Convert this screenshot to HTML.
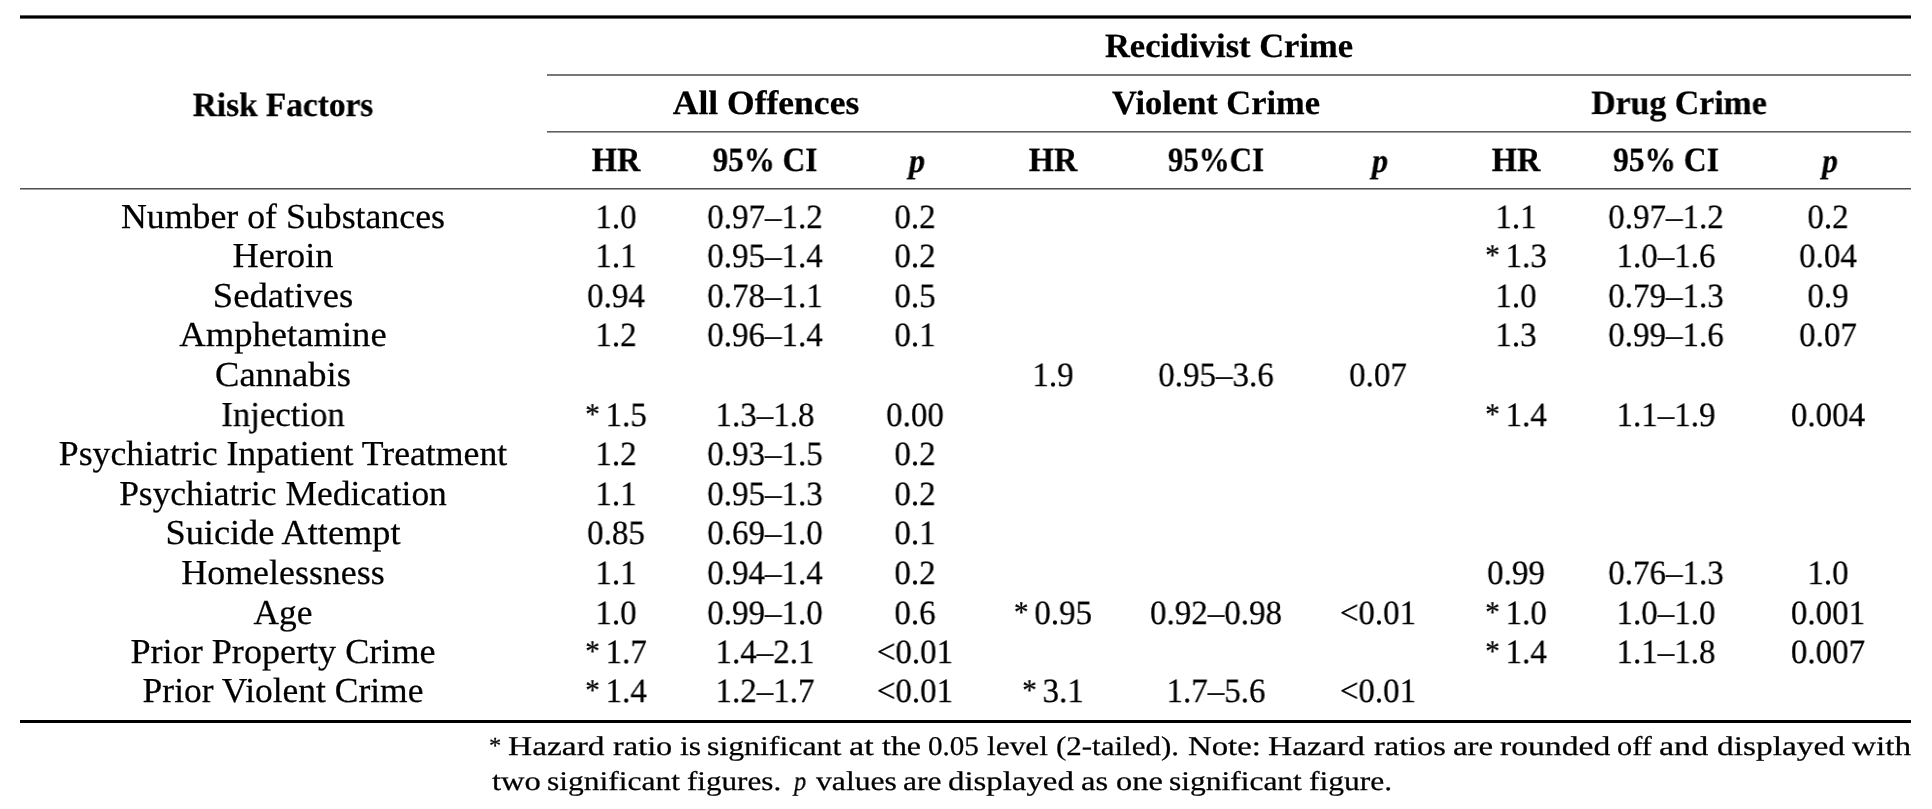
<!DOCTYPE html>
<html><head><meta charset="utf-8"><style>
html,body{margin:0;padding:0;background:#fff;}
body{width:1932px;height:809px;position:relative;overflow:hidden;font-family:"Liberation Serif",serif;color:#000;text-rendering:geometricPrecision;-webkit-text-stroke:0.25px #000;}
.t{position:absolute;white-space:nowrap;text-align:center;line-height:1;will-change:transform;}
.r{position:absolute;background:#000;}
.w{position:absolute;white-space:nowrap;line-height:1;will-change:transform;transform-origin:0 0;}
.a{font-size:30px;position:relative;top:-2.5px;margin-right:6px;}
</style></head><body>
<div class="t" id="e0" style="left:-16.60px;top:199px;width:600px;font-size:35px;font-weight:400;transform:scaleX(1.0222);">Number of Substances</div>
<div class="t" id="e1" style="left:316.00px;top:201px;width:600px;font-size:34px;font-weight:400;transform:scaleX(0.9706);">1.0</div>
<div class="t" id="e2" style="left:465.40px;top:201px;width:600px;font-size:34px;font-weight:400;transform:scaleX(0.9706);">0.97–1.2</div>
<div class="t" id="e3" style="left:615.00px;top:201px;width:600px;font-size:34px;font-weight:400;transform:scaleX(0.9706);">0.2</div>
<div class="t" id="e4" style="left:1215.50px;top:201px;width:600px;font-size:34px;font-weight:400;transform:scaleX(0.9706);">1.1</div>
<div class="t" id="e5" style="left:1366.00px;top:201px;width:600px;font-size:34px;font-weight:400;transform:scaleX(0.9706);">0.97–1.2</div>
<div class="t" id="e6" style="left:1528.40px;top:201px;width:600px;font-size:34px;font-weight:400;transform:scaleX(0.9706);">0.2</div>
<div class="t" id="e7" style="left:-16.60px;top:238px;width:600px;font-size:35px;font-weight:400;transform:scaleX(1.0367);">Heroin</div>
<div class="t" id="e8" style="left:316.00px;top:240px;width:600px;font-size:34px;font-weight:400;transform:scaleX(0.9706);">1.1</div>
<div class="t" id="e9" style="left:465.40px;top:240px;width:600px;font-size:34px;font-weight:400;transform:scaleX(0.9706);">0.95–1.4</div>
<div class="t" id="e10" style="left:615.00px;top:240px;width:600px;font-size:34px;font-weight:400;transform:scaleX(0.9706);">0.2</div>
<div class="t" id="e11" style="left:1215.50px;top:240px;width:600px;font-size:34px;font-weight:400;transform:scaleX(0.9706);"><span class="a">*</span>1.3</div>
<div class="t" id="e12" style="left:1366.00px;top:240px;width:600px;font-size:34px;font-weight:400;transform:scaleX(0.9706);">1.0–1.6</div>
<div class="t" id="e13" style="left:1528.40px;top:240px;width:600px;font-size:34px;font-weight:400;transform:scaleX(0.9706);">0.04</div>
<div class="t" id="e14" style="left:-16.60px;top:278px;width:600px;font-size:35px;font-weight:400;transform:scaleX(1.0459);">Sedatives</div>
<div class="t" id="e15" style="left:316.00px;top:280px;width:600px;font-size:34px;font-weight:400;transform:scaleX(0.9706);">0.94</div>
<div class="t" id="e16" style="left:465.40px;top:280px;width:600px;font-size:34px;font-weight:400;transform:scaleX(0.9706);">0.78–1.1</div>
<div class="t" id="e17" style="left:615.00px;top:280px;width:600px;font-size:34px;font-weight:400;transform:scaleX(0.9706);">0.5</div>
<div class="t" id="e18" style="left:1215.50px;top:280px;width:600px;font-size:34px;font-weight:400;transform:scaleX(0.9706);">1.0</div>
<div class="t" id="e19" style="left:1366.00px;top:280px;width:600px;font-size:34px;font-weight:400;transform:scaleX(0.9706);">0.79–1.3</div>
<div class="t" id="e20" style="left:1528.40px;top:280px;width:600px;font-size:34px;font-weight:400;transform:scaleX(0.9706);">0.9</div>
<div class="t" id="e21" style="left:-16.60px;top:317px;width:600px;font-size:35px;font-weight:400;transform:scaleX(1.0457);">Amphetamine</div>
<div class="t" id="e22" style="left:316.00px;top:319px;width:600px;font-size:34px;font-weight:400;transform:scaleX(0.9706);">1.2</div>
<div class="t" id="e23" style="left:465.40px;top:319px;width:600px;font-size:34px;font-weight:400;transform:scaleX(0.9706);">0.96–1.4</div>
<div class="t" id="e24" style="left:615.00px;top:319px;width:600px;font-size:34px;font-weight:400;transform:scaleX(0.9706);">0.1</div>
<div class="t" id="e25" style="left:1215.50px;top:319px;width:600px;font-size:34px;font-weight:400;transform:scaleX(0.9706);">1.3</div>
<div class="t" id="e26" style="left:1366.00px;top:319px;width:600px;font-size:34px;font-weight:400;transform:scaleX(0.9706);">0.99–1.6</div>
<div class="t" id="e27" style="left:1528.40px;top:319px;width:600px;font-size:34px;font-weight:400;transform:scaleX(0.9706);">0.07</div>
<div class="t" id="e28" style="left:-16.60px;top:357px;width:600px;font-size:35px;font-weight:400;transform:scaleX(1.0431);">Cannabis</div>
<div class="t" id="e29" style="left:753.00px;top:359px;width:600px;font-size:34px;font-weight:400;transform:scaleX(0.9706);">1.9</div>
<div class="t" id="e30" style="left:915.50px;top:359px;width:600px;font-size:34px;font-weight:400;transform:scaleX(0.9706);">0.95–3.6</div>
<div class="t" id="e31" style="left:1078.00px;top:359px;width:600px;font-size:34px;font-weight:400;transform:scaleX(0.9706);">0.07</div>
<div class="t" id="e32" style="left:-16.60px;top:397px;width:600px;font-size:35px;font-weight:400;transform:scaleX(0.9920);">Injection</div>
<div class="t" id="e33" style="left:316.00px;top:399px;width:600px;font-size:34px;font-weight:400;transform:scaleX(0.9706);"><span class="a">*</span>1.5</div>
<div class="t" id="e34" style="left:465.40px;top:399px;width:600px;font-size:34px;font-weight:400;transform:scaleX(0.9706);">1.3–1.8</div>
<div class="t" id="e35" style="left:615.00px;top:399px;width:600px;font-size:34px;font-weight:400;transform:scaleX(0.9706);">0.00</div>
<div class="t" id="e36" style="left:1215.50px;top:399px;width:600px;font-size:34px;font-weight:400;transform:scaleX(0.9706);"><span class="a">*</span>1.4</div>
<div class="t" id="e37" style="left:1366.00px;top:399px;width:600px;font-size:34px;font-weight:400;transform:scaleX(0.9706);">1.1–1.9</div>
<div class="t" id="e38" style="left:1528.40px;top:399px;width:600px;font-size:34px;font-weight:400;transform:scaleX(0.9706);">0.004</div>
<div class="t" id="e39" style="left:-16.60px;top:436px;width:600px;font-size:35px;font-weight:400;transform:scaleX(1.0206);">Psychiatric Inpatient Treatment</div>
<div class="t" id="e40" style="left:316.00px;top:438px;width:600px;font-size:34px;font-weight:400;transform:scaleX(0.9706);">1.2</div>
<div class="t" id="e41" style="left:465.40px;top:438px;width:600px;font-size:34px;font-weight:400;transform:scaleX(0.9706);">0.93–1.5</div>
<div class="t" id="e42" style="left:615.00px;top:438px;width:600px;font-size:34px;font-weight:400;transform:scaleX(0.9706);">0.2</div>
<div class="t" id="e43" style="left:-16.60px;top:476px;width:600px;font-size:35px;font-weight:400;transform:scaleX(1.0124);">Psychiatric Medication</div>
<div class="t" id="e44" style="left:316.00px;top:478px;width:600px;font-size:34px;font-weight:400;transform:scaleX(0.9706);">1.1</div>
<div class="t" id="e45" style="left:465.40px;top:478px;width:600px;font-size:34px;font-weight:400;transform:scaleX(0.9706);">0.95–1.3</div>
<div class="t" id="e46" style="left:615.00px;top:478px;width:600px;font-size:34px;font-weight:400;transform:scaleX(0.9706);">0.2</div>
<div class="t" id="e47" style="left:-16.60px;top:515px;width:600px;font-size:35px;font-weight:400;transform:scaleX(1.0380);">Suicide Attempt</div>
<div class="t" id="e48" style="left:316.00px;top:517px;width:600px;font-size:34px;font-weight:400;transform:scaleX(0.9706);">0.85</div>
<div class="t" id="e49" style="left:465.40px;top:517px;width:600px;font-size:34px;font-weight:400;transform:scaleX(0.9706);">0.69–1.0</div>
<div class="t" id="e50" style="left:615.00px;top:517px;width:600px;font-size:34px;font-weight:400;transform:scaleX(0.9706);">0.1</div>
<div class="t" id="e51" style="left:-16.60px;top:555px;width:600px;font-size:35px;font-weight:400;transform:scaleX(1.0255);">Homelessness</div>
<div class="t" id="e52" style="left:316.00px;top:557px;width:600px;font-size:34px;font-weight:400;transform:scaleX(0.9706);">1.1</div>
<div class="t" id="e53" style="left:465.40px;top:557px;width:600px;font-size:34px;font-weight:400;transform:scaleX(0.9706);">0.94–1.4</div>
<div class="t" id="e54" style="left:615.00px;top:557px;width:600px;font-size:34px;font-weight:400;transform:scaleX(0.9706);">0.2</div>
<div class="t" id="e55" style="left:1215.50px;top:557px;width:600px;font-size:34px;font-weight:400;transform:scaleX(0.9706);">0.99</div>
<div class="t" id="e56" style="left:1366.00px;top:557px;width:600px;font-size:34px;font-weight:400;transform:scaleX(0.9706);">0.76–1.3</div>
<div class="t" id="e57" style="left:1528.40px;top:557px;width:600px;font-size:34px;font-weight:400;transform:scaleX(0.9706);">1.0</div>
<div class="t" id="e58" style="left:-16.60px;top:595px;width:600px;font-size:35px;font-weight:400;transform:scaleX(1.0093);">Age</div>
<div class="t" id="e59" style="left:316.00px;top:597px;width:600px;font-size:34px;font-weight:400;transform:scaleX(0.9706);">1.0</div>
<div class="t" id="e60" style="left:465.40px;top:597px;width:600px;font-size:34px;font-weight:400;transform:scaleX(0.9706);">0.99–1.0</div>
<div class="t" id="e61" style="left:615.00px;top:597px;width:600px;font-size:34px;font-weight:400;transform:scaleX(0.9706);">0.6</div>
<div class="t" id="e62" style="left:753.00px;top:597px;width:600px;font-size:34px;font-weight:400;transform:scaleX(0.9706);"><span class="a">*</span>0.95</div>
<div class="t" id="e63" style="left:915.50px;top:597px;width:600px;font-size:34px;font-weight:400;transform:scaleX(0.9706);">0.92–0.98</div>
<div class="t" id="e64" style="left:1078.00px;top:597px;width:600px;font-size:34px;font-weight:400;transform:scaleX(0.9706);">&lt;0.01</div>
<div class="t" id="e65" style="left:1215.50px;top:597px;width:600px;font-size:34px;font-weight:400;transform:scaleX(0.9706);"><span class="a">*</span>1.0</div>
<div class="t" id="e66" style="left:1366.00px;top:597px;width:600px;font-size:34px;font-weight:400;transform:scaleX(0.9706);">1.0–1.0</div>
<div class="t" id="e67" style="left:1528.40px;top:597px;width:600px;font-size:34px;font-weight:400;transform:scaleX(0.9706);">0.001</div>
<div class="t" id="e68" style="left:-16.60px;top:634px;width:600px;font-size:35px;font-weight:400;transform:scaleX(1.0323);">Prior Property Crime</div>
<div class="t" id="e69" style="left:316.00px;top:636px;width:600px;font-size:34px;font-weight:400;transform:scaleX(0.9706);"><span class="a">*</span>1.7</div>
<div class="t" id="e70" style="left:465.40px;top:636px;width:600px;font-size:34px;font-weight:400;transform:scaleX(0.9706);">1.4–2.1</div>
<div class="t" id="e71" style="left:615.00px;top:636px;width:600px;font-size:34px;font-weight:400;transform:scaleX(0.9706);">&lt;0.01</div>
<div class="t" id="e72" style="left:1215.50px;top:636px;width:600px;font-size:34px;font-weight:400;transform:scaleX(0.9706);"><span class="a">*</span>1.4</div>
<div class="t" id="e73" style="left:1366.00px;top:636px;width:600px;font-size:34px;font-weight:400;transform:scaleX(0.9706);">1.1–1.8</div>
<div class="t" id="e74" style="left:1528.40px;top:636px;width:600px;font-size:34px;font-weight:400;transform:scaleX(0.9706);">0.007</div>
<div class="t" id="e75" style="left:-16.60px;top:673px;width:600px;font-size:35px;font-weight:400;transform:scaleX(1.0127);">Prior Violent Crime</div>
<div class="t" id="e76" style="left:316.00px;top:675px;width:600px;font-size:34px;font-weight:400;transform:scaleX(0.9706);"><span class="a">*</span>1.4</div>
<div class="t" id="e77" style="left:465.40px;top:675px;width:600px;font-size:34px;font-weight:400;transform:scaleX(0.9706);">1.2–1.7</div>
<div class="t" id="e78" style="left:615.00px;top:675px;width:600px;font-size:34px;font-weight:400;transform:scaleX(0.9706);">&lt;0.01</div>
<div class="t" id="e79" style="left:753.00px;top:675px;width:600px;font-size:34px;font-weight:400;transform:scaleX(0.9706);"><span class="a">*</span>3.1</div>
<div class="t" id="e80" style="left:915.50px;top:675px;width:600px;font-size:34px;font-weight:400;transform:scaleX(0.9706);">1.7–5.6</div>
<div class="t" id="e81" style="left:1078.00px;top:675px;width:600px;font-size:34px;font-weight:400;transform:scaleX(0.9706);">&lt;0.01</div>
<div class="t" id="e82" style="left:-16.60px;top:89px;width:600px;font-size:34px;font-weight:700;transform:scaleX(0.9809);">Risk Factors</div>
<div class="t" id="e83" style="left:928.70px;top:30px;width:600px;font-size:34px;font-weight:700;transform:scaleX(1.0144);">Recidivist Crime</div>
<div class="t" id="e84" style="left:465.60px;top:87px;width:600px;font-size:34px;font-weight:700;transform:scaleX(1.0452);">All Offences</div>
<div class="t" id="e85" style="left:916.30px;top:87px;width:600px;font-size:34px;font-weight:700;transform:scaleX(1.0123);">Violent Crime</div>
<div class="t" id="e86" style="left:1379.20px;top:87px;width:600px;font-size:34px;font-weight:700;transform:scaleX(0.9943);">Drug Crime</div>
<div class="t" id="e87" style="left:316.00px;top:144px;width:600px;font-size:34px;font-weight:700;transform:scaleX(0.9521);">HR</div>
<div class="t" id="e88" style="left:465.40px;top:144px;width:600px;font-size:34px;font-weight:700;transform:scaleX(0.9154);">95% CI</div>
<div class="t" id="e89" style="left:616.50px;top:145px;width:600px;font-size:34px;font-weight:700;transform:scaleX(0.9522);"><i>p</i></div>
<div class="t" id="e90" style="left:753.00px;top:144px;width:600px;font-size:34px;font-weight:700;transform:scaleX(0.9521);">HR</div>
<div class="t" id="e91" style="left:915.50px;top:144px;width:600px;font-size:34px;font-weight:700;transform:scaleX(0.9087);">95%CI</div>
<div class="t" id="e92" style="left:1079.50px;top:145px;width:600px;font-size:34px;font-weight:700;transform:scaleX(0.9522);"><i>p</i></div>
<div class="t" id="e93" style="left:1215.50px;top:144px;width:600px;font-size:34px;font-weight:700;transform:scaleX(0.9521);">HR</div>
<div class="t" id="e94" style="left:1366.00px;top:144px;width:600px;font-size:34px;font-weight:700;transform:scaleX(0.9241);">95% CI</div>
<div class="t" id="e95" style="left:1529.90px;top:145px;width:600px;font-size:34px;font-weight:700;transform:scaleX(0.9254);"><i>p</i></div>
<div class="r" style="left:20px;top:15px;width:1891px;height:4px;background:linear-gradient(#606060 0,#606060 1px,#000 1px,#000 3px,#666 3px,#666 4px)"></div>
<div class="r" style="left:547px;top:74px;width:1364px;height:2px;background:#787878"></div>
<div class="r" style="left:547px;top:131px;width:1364px;height:2px;background:linear-gradient(#606060 0,#606060 1px,#a0a0a0 1px,#a0a0a0 2px)"></div>
<div class="r" style="left:20px;top:188px;width:1891px;height:2px;background:linear-gradient(#505050 0,#505050 1px,#a0a0a0 1px,#a0a0a0 2px)"></div>
<div class="r" style="left:20px;top:720px;width:1891px;height:3px"></div>
<div class="w" id="w0" style="left:489.40px;top:734px;font-size:23px;transform:scaleX(1.0636)">*</div>
<div class="w" id="w1" style="left:507.60px;top:733px;font-size:27px;transform:scaleX(1.2377)">Hazard</div>
<div class="w" id="w2" style="left:613.40px;top:733px;font-size:27px;transform:scaleX(1.1985)">ratio</div>
<div class="w" id="w3" style="left:680.40px;top:733px;font-size:27px;transform:scaleX(1.1729)">is</div>
<div class="w" id="w4" style="left:707.00px;top:733px;font-size:27px;transform:scaleX(1.1780)">significant</div>
<div class="w" id="w5" style="left:849.40px;top:733px;font-size:27px;transform:scaleX(1.2633)">at</div>
<div class="w" id="w6" style="left:882.40px;top:733px;font-size:27px;transform:scaleX(1.1835)">the</div>
<div class="w" id="w7" style="left:928.00px;top:733px;font-size:27px;transform:scaleX(1.0777)">0.05</div>
<div class="w" id="w8" style="left:987.00px;top:733px;font-size:27px;transform:scaleX(1.1631)">level</div>
<div class="w" id="w9" style="left:1056.40px;top:733px;font-size:27px;transform:scaleX(1.1470)">(2-tailed).</div>
<div class="w" id="w10" style="left:1188.20px;top:733px;font-size:27px;transform:scaleX(1.2138)">Note:</div>
<div class="w" id="w11" style="left:1268.00px;top:733px;font-size:27px;transform:scaleX(1.2403)">Hazard</div>
<div class="w" id="w12" style="left:1374.20px;top:733px;font-size:27px;transform:scaleX(1.1980)">ratios</div>
<div class="w" id="w13" style="left:1453.00px;top:733px;font-size:27px;transform:scaleX(1.2164)">are</div>
<div class="w" id="w14" style="left:1500.40px;top:733px;font-size:27px;transform:scaleX(1.2459)">rounded</div>
<div class="w" id="w15" style="left:1617.40px;top:733px;font-size:27px;transform:scaleX(1.1210)">off</div>
<div class="w" id="w16" style="left:1659.40px;top:733px;font-size:27px;transform:scaleX(1.2610)">and</div>
<div class="w" id="w17" style="left:1717.00px;top:733px;font-size:27px;transform:scaleX(1.2359)">displayed</div>
<div class="w" id="w18" style="left:1852.40px;top:733px;font-size:27px;transform:scaleX(1.2323)">with</div>
<div class="w" id="w19" style="left:492.20px;top:768px;font-size:27px;transform:scaleX(1.2061)">two</div>
<div class="w" id="w20" style="left:547.40px;top:768px;font-size:27px;transform:scaleX(1.1674)">significant</div>
<div class="w" id="w21" style="left:687.20px;top:768px;font-size:27px;transform:scaleX(1.1524)">figures.</div>
<div class="w" id="w22" style="left:793.80px;top:768px;font-size:27px;transform:scaleX(0.8962)"><i>p</i></div>
<div class="w" id="w23" style="left:815.60px;top:768px;font-size:27px;transform:scaleX(1.1731)">values</div>
<div class="w" id="w24" style="left:902.80px;top:768px;font-size:27px;transform:scaleX(1.1643)">are</div>
<div class="w" id="w25" style="left:948.20px;top:768px;font-size:27px;transform:scaleX(1.2163)">displayed</div>
<div class="w" id="w26" style="left:1081.40px;top:768px;font-size:27px;transform:scaleX(1.2051)">as</div>
<div class="w" id="w27" style="left:1115.60px;top:768px;font-size:27px;transform:scaleX(1.2031)">one</div>
<div class="w" id="w28" style="left:1168.80px;top:768px;font-size:27px;transform:scaleX(1.1656)">significant</div>
<div class="w" id="w29" style="left:1308.60px;top:768px;font-size:27px;transform:scaleX(1.1672)">figure.</div>
</body></html>
